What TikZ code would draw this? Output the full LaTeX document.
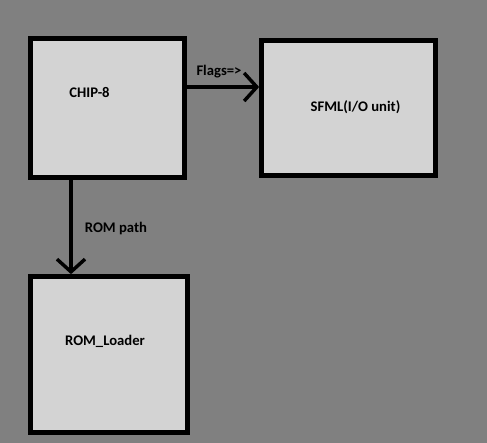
\documentclass[tikz,border=0pt]{standalone}
\usepackage{fontspec}
\setmainfont{Carlito}
\usetikzlibrary{arrows.meta}
\definecolor{bggray}{RGB}{128,128,128}
\definecolor{boxgray}{RGB}{211,211,211}
\begin{document}
\begin{tikzpicture}[x=0.75pt, y=-0.75pt,
    unit/.style={rectangle, draw, line width=3.5pt, fill=boxgray, inner sep=0pt},
    tag/.style={font=\bfseries\fontsize{11pt}{13pt}\selectfont, inner sep=0pt},
    flow/.style={line width=2.6pt, -{Straight Barb[length=9.5pt, width=21pt]}}]
    % --- background ---
    \fill[bggray] (0,0) rectangle (487,443);
    \useasboundingbox (0,0) rectangle (487,443);

    % --- boxes ---
    \node[unit, minimum width=115.5pt, minimum height=104.25pt] (chip) at (107.5,108) {};
    \node[unit, minimum width=130.5pt, minimum height=101.25pt] (sfml) at (348.5,108) {};
    \node[unit, minimum width=117.75pt, minimum height=117pt] (loader) at (109,354.5) {};

    % --- box texts ---
    \node[tag] (chiptxt) at (89.5,92) {CHIP-8};
    \node[tag] (sfmltxt) at (355.5,107) {SFML(I/O unit)};
    \node[tag] (loadertxt) at (105,341) {ROM\_Loader};

    % --- connectors ---
    \draw[flow] (chip.east |- 0,87) -- (sfml.west |- 0,87);
    \draw[flow] (chip.south -| 71,0) -- (loader.north -| 71,0);
    \node[tag] (flagstxt) at (219,72) {Flags=>};
    \node[tag] (pathtxt) at (116,229) {ROM path};
\end{tikzpicture}
\end{document}
